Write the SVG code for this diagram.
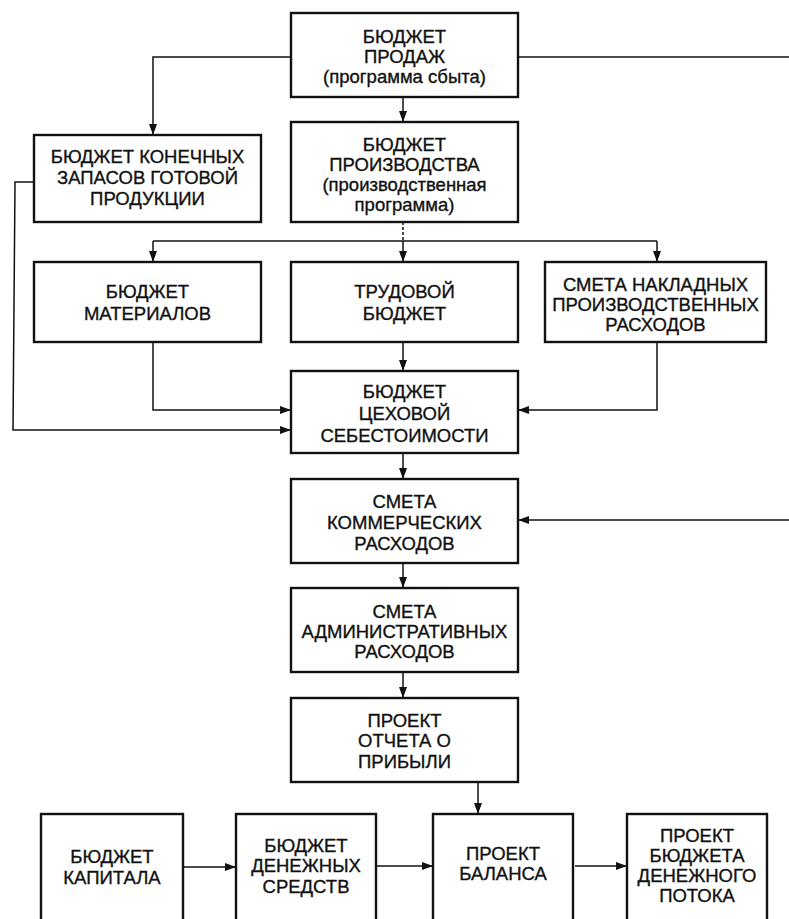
<svg xmlns="http://www.w3.org/2000/svg" width="789" height="919" viewBox="0 0 789 919">
<style>
.box{fill:#fff;stroke:#111;stroke-width:2.4}
.t{font-family:"Liberation Sans",Arial,sans-serif;font-size:18.5px;fill:#111;stroke:#111;stroke-width:0.35;text-anchor:middle}
.c{fill:none;stroke:#111;stroke-width:1.5}
</style>
<defs>
<marker id="ah" markerUnits="userSpaceOnUse" markerWidth="11" markerHeight="8" refX="11" refY="4" orient="auto">
<path d="M0,0 L11,4 L0,8 Z" fill="#111"/>
</marker>
</defs>
<rect width="789" height="919" fill="#fff"/>
<g id="connectors">
<polyline class="c" points="291,57 153,57 153,135" marker-end="url(#ah)"/>
<line class="c" x1="518" y1="57" x2="789" y2="57"/>
<line class="c" x1="403" y1="97" x2="403" y2="122" marker-end="url(#ah)"/>
<line class="c" x1="403" y1="222" x2="403" y2="241" stroke-dasharray="3,2"/>
<line class="c" x1="153" y1="241" x2="657" y2="241"/>
<line class="c" x1="153" y1="241" x2="153" y2="262" marker-end="url(#ah)"/>
<line class="c" x1="403" y1="241" x2="403" y2="262" marker-end="url(#ah)"/>
<line class="c" x1="657" y1="241" x2="657" y2="262" marker-end="url(#ah)"/>
<line class="c" x1="403" y1="342" x2="403" y2="371" marker-end="url(#ah)"/>
<polyline class="c" points="153,342 153,410 291,410" marker-end="url(#ah)"/>
<polyline class="c" points="657,342 657,410 518,410" marker-end="url(#ah)"/>
<polyline class="c" points="34,182 15,182 13,430 291,430" marker-end="url(#ah)"/>
<line class="c" x1="403" y1="453" x2="403" y2="479" marker-end="url(#ah)"/>
<line class="c" x1="789" y1="520" x2="518" y2="520" marker-end="url(#ah)"/>
<line class="c" x1="403" y1="563" x2="403" y2="588" marker-end="url(#ah)"/>
<line class="c" x1="403" y1="672" x2="403" y2="698" marker-end="url(#ah)"/>
<line class="c" x1="478" y1="782" x2="478" y2="814" marker-end="url(#ah)"/>
<line class="c" x1="183" y1="867" x2="236" y2="867" marker-end="url(#ah)"/>
<line class="c" x1="376" y1="866" x2="433" y2="866" marker-end="url(#ah)"/>
<line class="c" x1="575" y1="866" x2="627" y2="866" marker-end="url(#ah)"/>
</g>
<g id="sales">
<rect class="box" x="291" y="13" width="227" height="84"/>
<text class="t" x="404.5" y="43">БЮДЖЕТ</text>
<text class="t" x="404.5" y="63">ПРОДАЖ</text>
<text class="t" x="404.5" y="83">(программа сбыта)</text>
</g>
<g id="inventory">
<rect class="box" x="34" y="135" width="227" height="87"/>
<text class="t" x="147.5" y="163">БЮДЖЕТ КОНЕЧНЫХ</text>
<text class="t" x="147.5" y="184">ЗАПАСОВ ГОТОВОЙ</text>
<text class="t" x="147.5" y="205">ПРОДУКЦИИ</text>
</g>
<g id="production">
<rect class="box" x="291" y="122" width="227" height="100"/>
<text class="t" x="404.5" y="151">БЮДЖЕТ</text>
<text class="t" x="404.5" y="171">ПРОИЗВОДСТВА</text>
<text class="t" x="404.5" y="191">(производственная</text>
<text class="t" x="404.5" y="211">программа)</text>
</g>
<g id="materials">
<rect class="box" x="34" y="262" width="227" height="80"/>
<text class="t" x="147.5" y="298">БЮДЖЕТ</text>
<text class="t" x="147.5" y="320">МАТЕРИАЛОВ</text>
</g>
<g id="labor">
<rect class="box" x="291" y="262" width="227" height="80"/>
<text class="t" x="404.5" y="298">ТРУДОВОЙ</text>
<text class="t" x="404.5" y="320">БЮДЖЕТ</text>
</g>
<g id="overhead">
<rect class="box" x="545" y="262" width="221" height="80"/>
<text class="t" x="655.5" y="291">СМЕТА НАКЛАДНЫХ</text>
<text class="t" x="655.5" y="311">ПРОИЗВОДСТВЕННЫХ</text>
<text class="t" x="655.5" y="331">РАСХОДОВ</text>
</g>
<g id="shopcost">
<rect class="box" x="291" y="371" width="227" height="82"/>
<text class="t" x="404.5" y="398">БЮДЖЕТ</text>
<text class="t" x="404.5" y="420">ЦЕХОВОЙ</text>
<text class="t" x="404.5" y="442">СЕБЕСТОИМОСТИ</text>
</g>
<g id="commercial">
<rect class="box" x="291" y="479" width="227" height="84"/>
<text class="t" x="404.5" y="508">СМЕТА</text>
<text class="t" x="404.5" y="529">КОММЕРЧЕСКИХ</text>
<text class="t" x="404.5" y="550">РАСХОДОВ</text>
</g>
<g id="admin">
<rect class="box" x="291" y="588" width="227" height="84"/>
<text class="t" x="404.5" y="618">СМЕТА</text>
<text class="t" x="404.5" y="638">АДМИНИСТРАТИВНЫХ</text>
<text class="t" x="404.5" y="658">РАСХОДОВ</text>
</g>
<g id="profit">
<rect class="box" x="291" y="698" width="227" height="84"/>
<text class="t" x="404.5" y="727">ПРОЕКТ</text>
<text class="t" x="404.5" y="747">ОТЧЕТА О</text>
<text class="t" x="404.5" y="768">ПРИБЫЛИ</text>
</g>
<g id="capital">
<rect class="box" x="41" y="814" width="142" height="115"/>
<text class="t" x="112" y="863">БЮДЖЕТ</text>
<text class="t" x="112" y="884">КАПИТАЛА</text>
</g>
<g id="cash">
<rect class="box" x="236" y="814" width="140" height="115"/>
<text class="t" x="306" y="852">БЮДЖЕТ</text>
<text class="t" x="306" y="872">ДЕНЕЖНЫХ</text>
<text class="t" x="306" y="893">СРЕДСТВ</text>
</g>
<g id="balance">
<rect class="box" x="433" y="814" width="140" height="115"/>
<text class="t" x="503" y="860">ПРОЕКТ</text>
<text class="t" x="503" y="880">БАЛАНСА</text>
</g>
<g id="cashflow">
<rect class="box" x="627" y="814" width="140" height="115"/>
<text class="t" x="697" y="842">ПРОЕКТ</text>
<text class="t" x="697" y="862">БЮДЖЕТА</text>
<text class="t" x="697" y="882">ДЕНЕЖНОГО</text>
<text class="t" x="697" y="902">ПОТОКА</text>
</g>
</svg>
